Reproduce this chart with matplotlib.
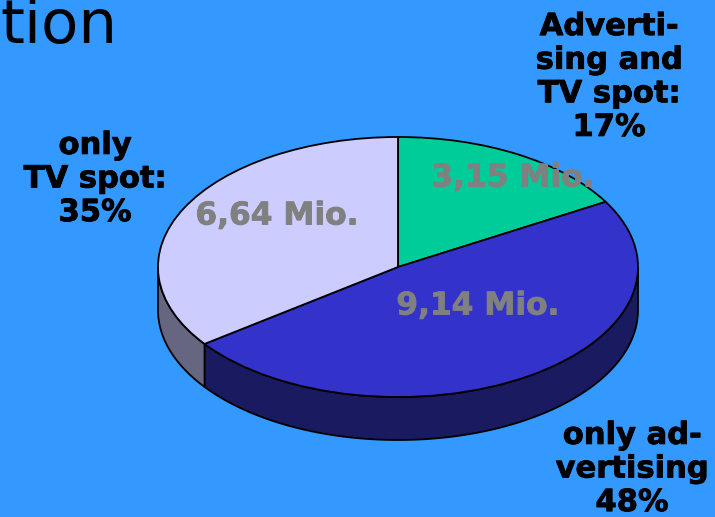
import numpy as np
import matplotlib
matplotlib.use('Agg')
import matplotlib.pyplot as plt
import matplotlib.patheffects as pe

# --- Dados ---
valores = [3.15, 9.14, 6.64]
rotulos_valor = ['3,15 Mio.', '9,14 Mio.', '6,64 Mio.']
rotulos_fatia = ['Adverti-\nsing and\nTV spot:\n17%', 'only ad-\nvertising\n48%', 'only\nTV spot:\n35%']
cores_topo = ['#00CC99', '#3333CC', '#CCCCFF']
cores_lado = ['#006B50', '#1A1A60', '#666680']

W, H = 715, 517
CX, CY = 398, 267
RX, RY, PROF = 240, 130, 43
ESC = RY / RX  # achatamento da elipse

fig = plt.figure(figsize=(W / 100, H / 100), dpi=100, facecolor='#3399FF')
ax = fig.add_axes([0, 0, 1, 1])

# topo da pizza, y em unidades achatadas
ax.pie(valores, colors=cores_topo, startangle=90, counterclock=False,
       center=(CX, (H - CY) / ESC), radius=RX, frame=True,
       wedgeprops={'edgecolor': 'black', 'linewidth': 1.3, 'zorder': 3})
ax.set_aspect('auto')
ax.set_xlim(0, W)
ax.set_ylim(0, H / ESC)
ax.axis('off')

# lateral: so a parte da frente (angulos entre 90 e 270 a partir do topo)
limites = np.cumsum([0] + valores) / sum(valores) * 360
yc = (H - CY) / ESC
dz = PROF / ESC
for i in range(len(valores)):
    a0 = max(limites[i], 90)
    a1 = min(limites[i + 1], 270)
    if a1 <= a0:
        continue
    t = np.radians(np.linspace(a0, a1, 120))
    x = CX + RX * np.sin(t)
    y = yc + RX * np.cos(t)
    ax.fill(np.r_[x, x[::-1]], np.r_[y, y[::-1] - dz], facecolor=cores_lado[i],
            edgecolor='black', linewidth=1.3, zorder=2)

# textos
def texto(px, py, s, **kw):
    return fig.text(px / W, 1 - py / H, s, ha='center', va='center', **kw)

fig.text(0, 1 - 43 / H, 'tion', fontsize=44, color='black', ha='left', va='baseline')

pos_valor = [(513, 178), (478, 306), (277, 216)]
for (px, py), s in zip(pos_valor, rotulos_valor):
    tx = texto(px, py, s, fontsize=22.5, fontweight='bold', color='#808080')
    tx.set_path_effects([pe.withStroke(linewidth=0.6, foreground='#808080')])

pos_fatia = [(609, 77), (632, 469), (95, 179)]
for (px, py), s in zip(pos_fatia, rotulos_fatia):
    tx = texto(px, py, s, fontsize=22, fontweight='bold', color='black', linespacing=1.2)
    tx.set_path_effects([pe.withStroke(linewidth=0.6, foreground='black')])

plt.savefig('out.png', dpi=100, facecolor=fig.get_facecolor())
plt.close()
